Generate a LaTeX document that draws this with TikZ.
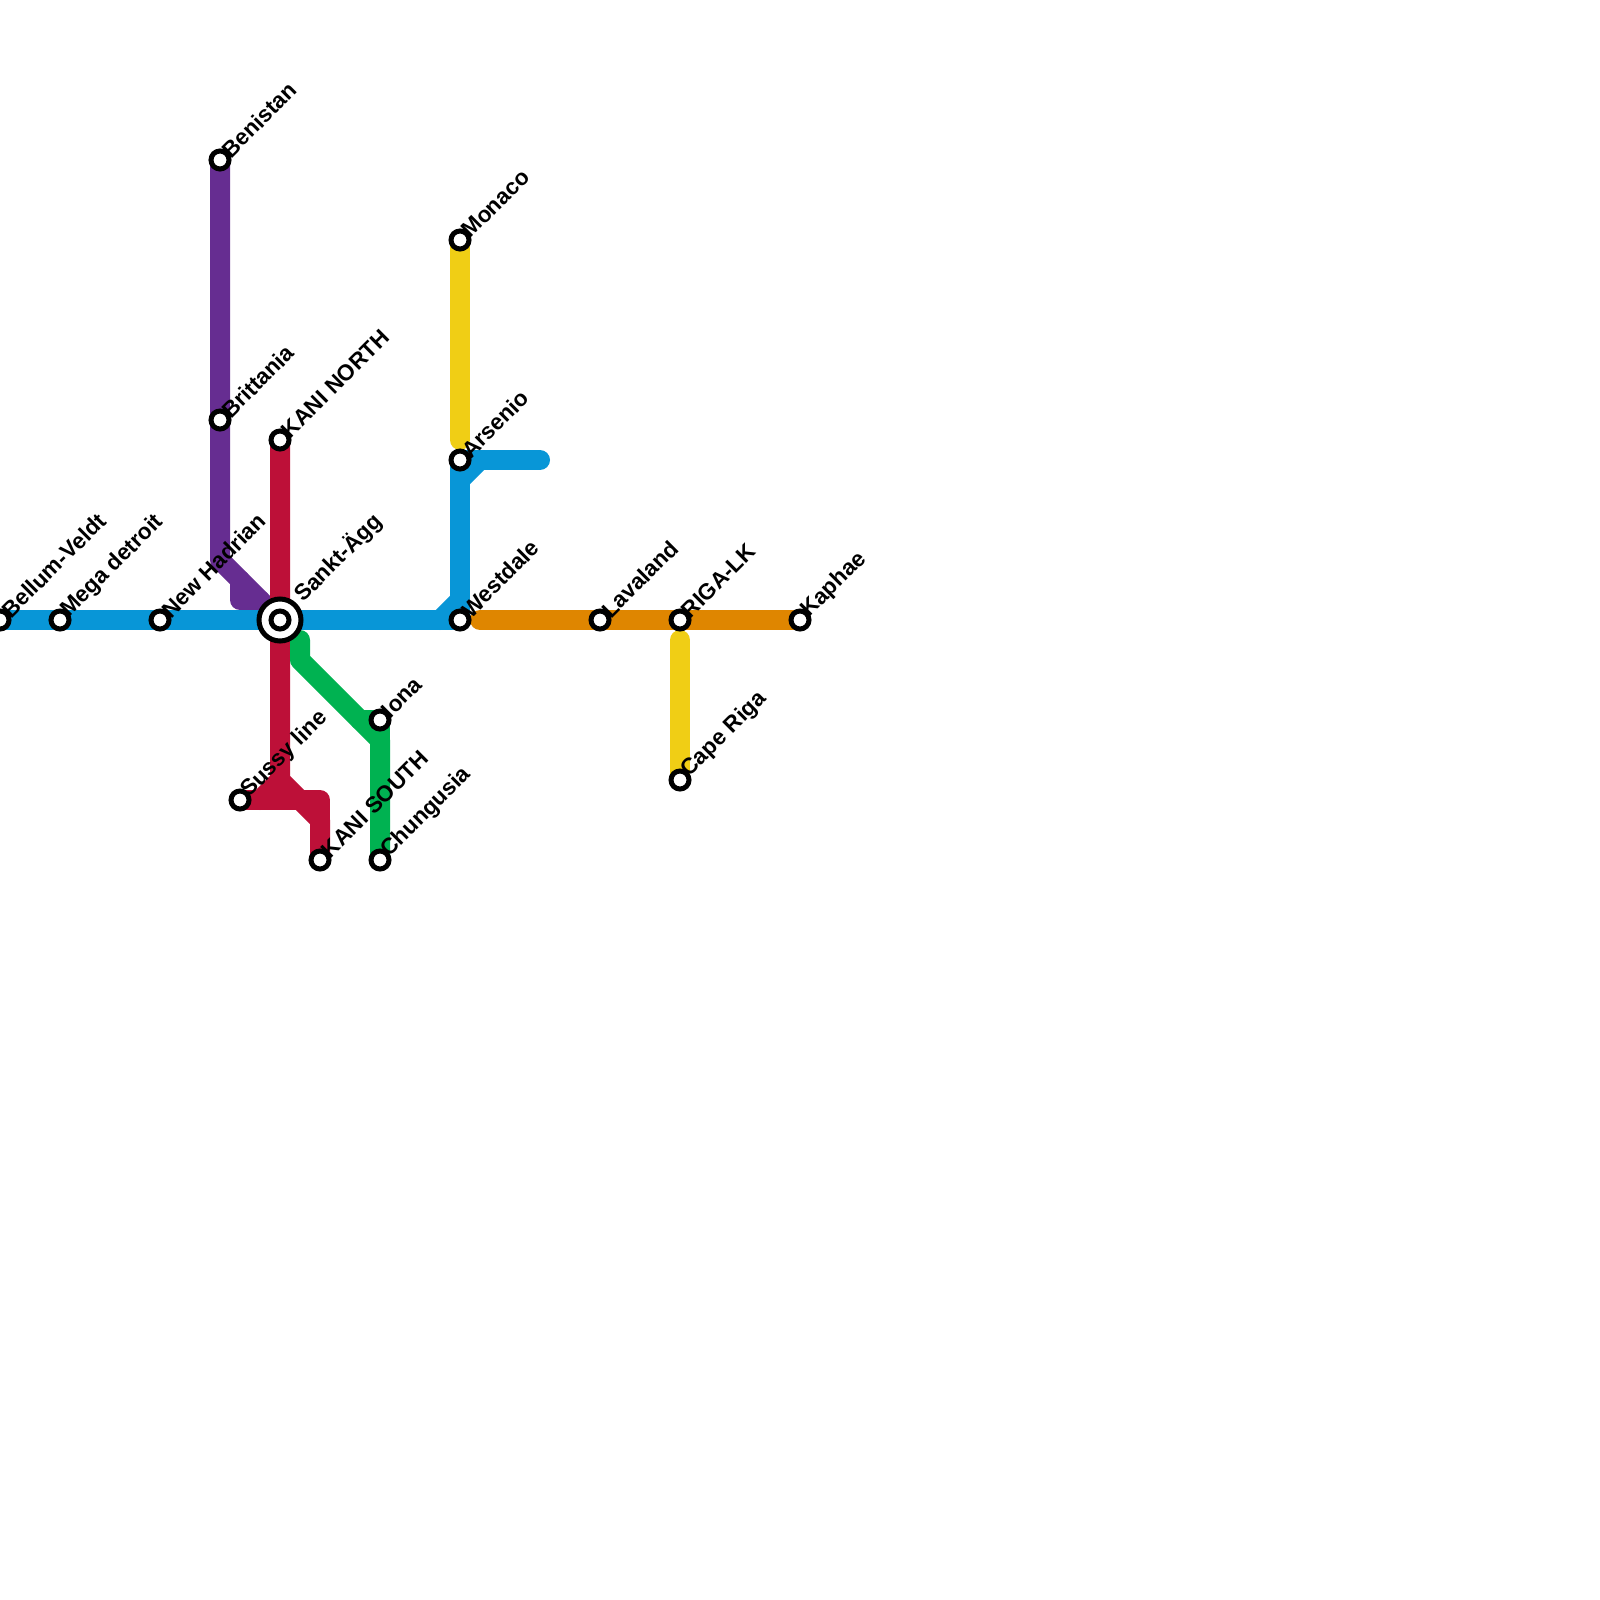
\documentclass[tikz,border=0pt]{standalone}
\usepackage{fontspec}
\setmainfont{Liberation Sans}
\usepackage{tikz}
\definecolor{lnblue}{HTML}{0896D7}
\definecolor{lnred}{HTML}{BD1038}
\definecolor{lnpurple}{HTML}{662D91}
\definecolor{lngreen}{HTML}{00B251}
\definecolor{lnyellow}{HTML}{F0CE15}
\definecolor{lnorange}{HTML}{DF8600}

\begin{document}
\begin{tikzpicture}[
    x=0.0125cm, y=-0.0125cm,
    ln/.style={line width=0.25cm, line cap=round, line join=round},
    stn/.style={
      circle, draw=black, fill=white, line width=0.0625cm,
      minimum size=0.225cm, inner sep=0pt, outer sep=0pt
    },
    hub/.style={
      circle, draw=black, fill=white, line width=0.0625cm,
      minimum size=0.525cm, inner sep=0pt, outer sep=0pt
    },
    lbl/.style={font=\fontsize{8}{9.6}\selectfont\bfseries, rotate=45, anchor=west, inner sep=0pt}
  ]
    \useasboundingbox (0,0) rectangle (1600,1600);

    % --- stations ---
    \coordinate (bellum)   at (0,620);
    \coordinate (mega)     at (60,620);
    \coordinate (hadrian)  at (160,620);
    \coordinate (sankt)    at (280,620);
    \coordinate (westdale) at (460,620);
    \coordinate (arsenio)  at (460,460);
    \coordinate (monaco)   at (460,240);
    \coordinate (benistan) at (220,160);
    \coordinate (britt)    at (220,420);
    \coordinate (knorth)   at (280,440);
    \coordinate (sussy)    at (240,800);
    \coordinate (ksouth)   at (320,860);
    \coordinate (iona)     at (380,720);
    \coordinate (chung)    at (380,860);
    \coordinate (lava)     at (600,620);
    \coordinate (riga)     at (680,620);
    \coordinate (kaphae)   at (800,620);
    \coordinate (cape)     at (680,780);

    % --- bends and line ends ---
    \coordinate (pa) at (220,560);
    \coordinate (pb) at (240,580);
    \coordinate (pc) at (240,600);
    \coordinate (pd) at (260,600);
    \coordinate (ra) at (280,780);
    \coordinate (rb) at (320,820);
    \coordinate (rc) at (320,800);
    \coordinate (rd) at (260,800);
    \coordinate (ga) at (300,640);
    \coordinate (gb) at (300,660);
    \coordinate (gc) at (380,740);
    \coordinate (gd) at (360,720);
    \coordinate (ba) at (540,460);
    \coordinate (bb) at (460,480);
    \coordinate (bc) at (480,460);
    \coordinate (bd) at (440,620);
    \coordinate (be) at (460,600);
    \coordinate (ya) at (460,440);
    \coordinate (yb) at (680,640);
    \coordinate (oa) at (480,620);

    % --- lines ---
    \draw[ln, lnpurple] (benistan) -- (britt) -- (pa) -- (sankt);
    \draw[ln, lnpurple] (pb) -- (pc) -- (pd);
    \draw[ln, lnred] (knorth) -- (sankt) -- (ra) -- (rb) -- (ksouth);
    \draw[ln, lnred] (sussy) -- (rc) -- (rb);
    \draw[ln, lnred] (ra) -- (rd);
    \draw[ln, lngreen] (ga) -- (gb) -- (gc) -- (chung);
    \draw[ln, lngreen] (gd) -- (iona) -- (gc);
    \draw[ln, lnblue] (bellum) -- (westdale) -- (arsenio) -- (ba);
    \draw[ln, lnblue] (bb) -- (bc);
    \draw[ln, lnblue] (bd) -- (be);
    \draw[ln, lnyellow] (monaco) -- (ya);
    \draw[ln, lnyellow] (yb) -- (cape);
    \draw[ln, lnorange] (oa) -- (kaphae);

    % --- markers ---
    \foreach \s in {bellum, mega, hadrian, westdale, arsenio, monaco, benistan, britt,
                    knorth, sussy, ksouth, iona, chung, lava, riga, kaphae, cape}
      \node[stn] (\s m) at (\s) {};
    \node[hub] (sankth) at (sankt) {};
    \node[stn] (sanktm) at (sankt) {};

    % --- labels ---
    \node[lbl] (bellumt)   at (5,614)   {Bellum-Veldt};
    \node[lbl] (megat)     at (65,614)  {Mega detroit};
    \node[lbl] (hadriant)  at (165,614) {New Hadrian};
    \node[lbl] (sanktt)    at (298,598) {Sankt-Ägg};
    \node[lbl] (westdalet) at (465,614) {Westdale};
    \node[lbl] (arseniot)  at (465,454) {Arsenio};
    \node[lbl] (monacot)   at (465,234) {Monaco};
    \node[lbl] (benistant) at (225,154) {Benistan};
    \node[lbl] (brittt)    at (225,414) {Brittania};
    \node[lbl] (knortht)   at (285,434) {KANI NORTH};
    \node[lbl] (sussyt)    at (245,794) {Sussy line};
    \node[lbl] (ksoutht)   at (325,854) {KANI SOUTH};
    \node[lbl] (ionat)     at (385,714) {Iona};
    \node[lbl] (chungt)    at (385,854) {Chungusia};
    \node[lbl] (lavat)     at (605,614) {Lavaland};
    \node[lbl] (rigat)     at (685,614) {RIGA-LK};
    \node[lbl] (kaphaet)   at (805,614) {Kaphae};
    \node[lbl] (capet)     at (685,774) {Cape Riga};
  \end{tikzpicture}
\end{document}
